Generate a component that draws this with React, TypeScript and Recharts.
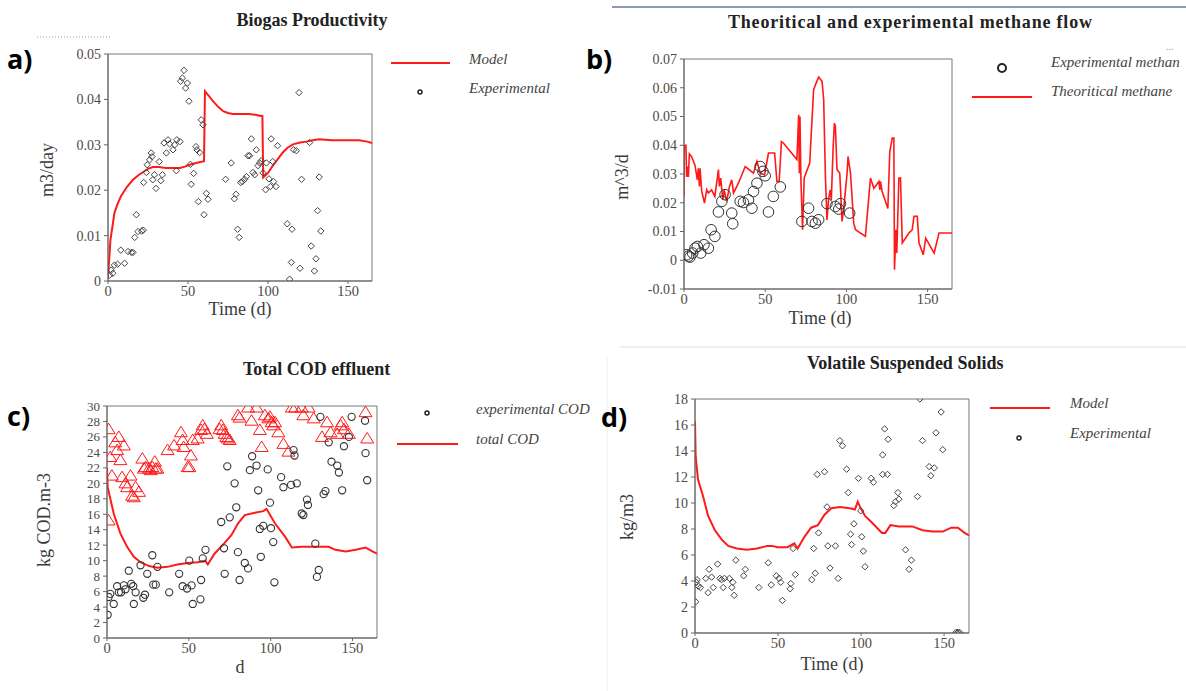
import React from "react";
import { ComposedChart, Line, Scatter, XAxis, YAxis, ReferenceArea } from "recharts";

// ---- a) biogas productivity (m3/day)
const biogasModel: [number, number][] = [
  [0, 0.001], [1, 0.006], [1.5, 0.009], [3, 0.0125], [4, 0.015], [6, 0.017], [8, 0.0186], [12, 0.0208],
  [15.6, 0.0223], [19, 0.0233], [22, 0.024], [25, 0.0247], [28, 0.0251], [32, 0.0251], [36, 0.0249],
  [40, 0.0249], [45, 0.0249], [48, 0.0252], [51, 0.0256], [55, 0.026], [60, 0.0264], [60.6, 0.0418],
  [63, 0.0408], [65.6, 0.0396], [69, 0.0383], [72, 0.0374], [75, 0.037], [78, 0.0368], [88, 0.0368],
  [92, 0.0366], [96.5, 0.0363], [97, 0.0228], [100, 0.0238], [103, 0.0254], [106, 0.0268], [109, 0.0282],
  [112, 0.0293], [115.6, 0.0301], [120, 0.0305], [124, 0.0307], [128, 0.031], [132, 0.0312], [136, 0.0311],
  [140, 0.031], [150, 0.031], [157, 0.031], [162, 0.0307], [165, 0.0304]
];
const biogasExp: [number, number][] = [
  [1, 0.0013], [2, 0.0024], [3, 0.0017], [4, 0.0035], [6, 0.0037], [8, 0.0068], [10.4, 0.0039], [12.5, 0.0065],
  [14.6, 0.0063], [15.6, 0.0063], [16.7, 0.0096], [17.7, 0.0146], [18.75, 0.0109], [21, 0.011], [22, 0.0112],
  [22.3, 0.0217], [24, 0.0239], [24.5, 0.0256], [26, 0.0267], [27, 0.0282], [27.5, 0.0274], [28, 0.0223],
  [29, 0.0234], [30, 0.0204], [32, 0.0263], [33, 0.0221], [34, 0.0234], [35, 0.0304], [36.5, 0.0282],
  [37.5, 0.0311], [38.5, 0.0302], [40.6, 0.0289], [41.7, 0.03], [43, 0.0311], [42.7, 0.0243], [45, 0.0307],
  [45.4, 0.044], [46.5, 0.0447], [47.5, 0.0464], [48.5, 0.0425], [49.6, 0.0436], [50.6, 0.0396], [51.5, 0.0257],
  [52, 0.0213], [53.5, 0.0237], [55, 0.0296], [55.6, 0.0289], [56.5, 0.0175], [57.3, 0.0283], [58.3, 0.0355],
  [59.4, 0.0344], [60, 0.0146], [61.5, 0.0193], [62.5, 0.018], [73.5, 0.0224], [77, 0.026], [79, 0.0181],
  [80, 0.0191], [81, 0.0114], [82, 0.0096], [83, 0.0217], [84, 0.0219], [85.4, 0.0224], [86.5, 0.023],
  [87.5, 0.0276], [88.5, 0.0276], [89.6, 0.0313], [90.6, 0.0239], [91.7, 0.0234], [92.7, 0.0289],
  [93.75, 0.0254], [94.8, 0.026], [95.8, 0.0265], [96.9, 0.0238], [99, 0.026], [98.5, 0.0201], [100.6, 0.0225],
  [101.5, 0.0208], [102, 0.0313], [103, 0.0263], [103.5, 0.0219], [105, 0.0208], [106, 0.0298], [112, 0.0126],
  [113.5, 0.0004], [114.6, 0.0041], [115, 0.0114], [116, 0.0289], [117.7, 0.0287], [119.4, 0.0415],
  [120, 0.0028], [121, 0.0224], [126, 0.0305], [127, 0.0077], [129, 0.0022], [130, 0.0049], [131, 0.0155],
  [132, 0.0229], [133, 0.011]
];

// ---- b) methane flow (m^3/d)
const methaneTheory: [number, number][] = [
  [0, 0.0222], [0.2, 0.04], [1.2, 0.04], [1.6, 0.029], [2, 0.0326], [2.7, 0.029], [3.3, 0.037], [4.7, 0.036],
  [6.8, 0.033], [8.2, 0.028], [8.8, 0.032], [9.5, 0.0257], [9.9, 0.032], [10.9, 0.024], [12.6, 0.0199],
  [14, 0.0245], [15, 0.0234], [17, 0.0245], [19, 0.0222], [21.2, 0.0315], [21.8, 0.0257], [22.6, 0.0286],
  [23.9, 0.021], [24.7, 0.0245], [26.3, 0.0205], [28, 0.0257], [29.4, 0.028], [30.5, 0.0234], [33.5, 0.0268],
  [37.7, 0.0326], [42.8, 0.0303], [44.9, 0.0344], [46.9, 0.0303], [49.6, 0.0297], [52, 0.0373], [55.8, 0.0373],
  [57.2, 0.0274], [58.6, 0.0274], [60, 0.0413], [61.3, 0.0407], [69.5, 0.035], [70.6, 0.0506], [71, 0.0303],
  [71.4, 0.05], [72, 0.0274], [73, 0.0106], [74, 0.0286], [77.4, 0.0338], [79.8, 0.0593], [80.9, 0.061],
  [82.9, 0.0637], [85, 0.0622], [86, 0.0558], [87, 0.0303], [88, 0.014], [89, 0.021], [90, 0.0245],
  [90.7, 0.021], [91.8, 0.039], [92.6, 0.0477], [93.2, 0.0466], [94.2, 0.0315], [95.9, 0.0303], [97.3, 0.0135],
  [98.3, 0.0176], [100.4, 0.0303], [101, 0.0361], [102.5, 0.0303], [104.5, 0.0129], [105.6, 0.0106],
  [111.7, 0.0083], [114.8, 0.0286], [116.9, 0.025], [120, 0.0274], [120.6, 0.0245], [121, 0.0274],
  [122, 0.0239], [125.5, 0.018], [126.7, 0.0378], [128.2, 0.0425], [129.2, 0.0425], [129.6, -0.0033],
  [130.5, 0.0106], [131, 0.0025], [132.3, 0.0286], [133.3, 0.0286], [134.4, 0.006], [138.5, 0.0095],
  [140.5, 0.0106], [141.6, 0.0153], [143.6, 0.0153], [144.7, 0.006], [147.3, 0.0019], [148.8, 0.0077],
  [154, 0.0025], [157, 0.0095], [165, 0.0095]
];
const methaneExp: [number, number][] = [
  [1.6, 0.0019], [2.7, 0.0014], [3.7, 0.0011], [5.3, 0.0025], [6.8, 0.0042], [8.2, 0.0048], [10.3, 0.0025],
  [12.3, 0.0054], [15, 0.0042], [16.7, 0.0106], [19, 0.0083], [21.2, 0.0168], [23.3, 0.0205], [25.3, 0.0228],
  [29.4, 0.0164], [30, 0.0127], [34.6, 0.0205], [36.6, 0.0201], [39.7, 0.021], [41.8, 0.0181], [42.8, 0.0239],
  [44.9, 0.0268], [46.9, 0.0326], [48.6, 0.0309], [50, 0.0294], [52, 0.0168], [55, 0.0222], [59.3, 0.0255],
  [72.6, 0.0135], [76.7, 0.0181], [78.8, 0.0135], [80.9, 0.0129], [82.9, 0.0141], [88, 0.0197], [93.2, 0.0187],
  [95.3, 0.0178], [96.3, 0.0197], [102, 0.0164]
];

// ---- c) total COD effluent (kg COD.m-3)
const codTotal: [number, number][] = [
  [0, 22], [0.4, 19.5], [4.1, 16.1], [8.2, 13.5], [12.3, 11.8], [16.4, 10.5], [20.5, 9.8], [25.7, 9.3],
  [30.8, 9.1], [37, 9.2], [43, 9.5], [49.3, 9.7], [55.4, 9.8], [60, 10], [61.6, 9.5], [65.7, 10.9], [71.9, 12.3],
  [76, 13.3], [80, 14.8], [84.2, 15.9], [90.3, 16.2], [95.5, 16.4], [97.5, 16.7], [98.6, 16.3], [102.7, 14.8],
  [108.8, 13.1], [113, 11.7], [119, 11.8], [129.4, 11.8], [135.5, 11.8], [139.6, 11.4], [145.8, 11.2],
  [152, 11.4], [158, 11.7], [162.2, 11.2], [165, 10.9]
];
const codExp: [number, number][] = [
  [0.4, 3], [1, 5.3], [2, 5.7], [4.1, 4.4], [6.2, 6.7], [7.2, 5.9], [8.6, 5.9], [10.3, 6.8], [11.3, 6.3],
  [13.3, 8.7], [14.8, 7], [16, 6.7], [16.4, 4.4], [17.5, 5.9], [20.5, 9.4], [22.2, 5.2], [23.2, 5.6], [24.6, 8.3],
  [27.7, 10.7], [28.3, 6.9], [29.8, 6.9], [30.8, 9.2], [38, 5.9], [44.1, 8.3], [46.2, 6.7], [48.9, 6.4],
  [50.3, 10], [51.7, 6.8], [52.4, 4.4], [57.1, 5], [57.5, 7.5], [58.5, 10.3], [60.2, 11.4], [69.8, 15],
  [71.5, 11.6], [71.9, 8.3], [73.5, 22.2], [75, 15.6], [78, 20], [79, 16.9], [80, 11.1], [81, 7.5], [84.2, 9.7],
  [86.2, 9], [87.3, 21.7], [88.7, 23.5], [91.4, 22.3], [92.4, 19.1], [94, 10.5], [93.4, 14.1], [95.5, 14.5],
  [98.2, 21.8], [99.6, 17.5], [100.2, 14.2], [101.6, 12.4], [102.3, 7.2], [106.4, 20.8], [107.8, 19.5],
  [112.5, 19.8], [114, 24.3], [114.6, 23.6], [116, 20], [119, 16.1], [120, 15.9], [122.2, 17.9], [122.8, 17.2],
  [127.3, 12.2], [128.3, 7.9], [129.4, 8.8], [130.4, 28.6], [132.4, 18.6], [133.5, 19], [135.5, 25.3],
  [137.2, 22.8], [140.7, 22.3], [141.7, 21.4], [143.7, 19.1], [144.8, 24.8], [147.8, 26], [149.5, 28.6],
  [157.7, 28.1], [158, 23.9], [159, 20.4]
];
const codInfluent: [number, number][] = [
  [1, 27], [2, 23.4], [1, 15.2], [3, 21], [5, 25.3], [6.2, 24.3], [7.2, 26], [8.2, 23], [9.2, 20.8], [10.3, 24.9],
  [11.3, 20], [12.3, 19.5], [14.4, 21], [15.4, 18.4], [16.4, 18.2], [17.5, 19.5], [19.5, 18.9], [21.6, 23.2],
  [22.6, 21.9], [23.6, 22.1], [25.7, 21.9], [26.7, 21.7], [27.7, 22.1], [29.2, 22.8], [29.8, 21.9],
  [30.8, 21.9], [37, 24.3], [41, 24.9], [45.2, 26.6], [46.2, 25.6], [46.8, 24.7], [49.3, 22.1], [50.3, 22.1],
  [51.3, 23.6], [52.4, 25.6], [55.4, 25.8], [57.5, 26.9], [58.5, 27.5], [59.5, 27], [61, 26.4], [68.8, 27],
  [69.8, 27.5], [70.8, 26.9], [71.9, 26.4], [72.9, 26], [73.9, 25.8], [75, 25.6], [80, 28.8], [81, 28.5],
  [86.2, 29.8], [88.3, 28.1], [91.4, 29.8], [93.4, 26.9], [94.5, 24.7], [96.5, 28.8], [98.6, 28.4], [99.6, 28.6],
  [100.6, 27.9], [101.6, 27.5], [102.7, 27.9], [104.7, 26.6], [107.8, 25.1], [110.9, 24.1], [113, 29.8],
  [115, 29.8], [119, 29.8], [120, 28.8], [123.2, 29.8], [126.3, 28.4], [131.4, 26], [134.5, 27.9], [136.6, 26.6],
  [140.7, 26.4], [142.7, 27.5], [143.7, 27.9], [144.8, 27], [147.8, 26.4], [158, 29.2], [159, 25.8]
];

// ---- d) volatile suspended solids (kg/m3)
const vssModel: [number, number][] = [
  [0, 16.3], [0.4, 13.6], [1.8, 11.8], [4.9, 10.5], [7.9, 9], [12, 7.9], [16, 7.2], [20, 6.7], [25.2, 6.5],
  [31.3, 6.4], [37.4, 6.5], [43.5, 6.7], [46.5, 6.7], [49.6, 6.6], [55.7, 6.6], [59.8, 6.9], [61.8, 6.5],
  [65.9, 7.4], [69.9, 8.1], [74, 8.3], [78, 9.1], [82.1, 9.6], [87.2, 9.7], [93.3, 9.6], [96.3, 9.5], [98, 10.1],
  [99.4, 9.7], [102.4, 9], [106.5, 8.5], [112.6, 7.7], [114.6, 7.7], [117.7, 8.3], [122.8, 8.2], [127.8, 8.2],
  [130.9, 8.2], [137, 7.9], [143.1, 7.8], [149.2, 7.8], [154.3, 8.1], [158.3, 8.1], [162.4, 7.7], [165, 7.5]
];
const vssExp: [number, number][] = [
  [0.4, 2.4], [0.8, 3.9], [1.2, 4.1], [2, 3.6], [3.3, 3.5], [6.5, 4.2], [7.9, 3.1], [8.5, 4.9], [10, 4.3],
  [11, 3.5], [13.6, 5.3], [15, 4.2], [16, 4.1], [17, 3.5], [17.7, 4.2], [20.7, 4.2], [22.2, 3.5], [22.8, 3.9],
  [23.6, 2.9], [24.6, 5.6], [29.3, 4.4], [30.3, 4.9], [38.4, 3.5], [44.1, 5.4], [45.9, 3.7], [49, 4.4],
  [50.6, 4.2], [51.6, 3.9], [52.6, 2.5], [57.3, 3.4], [57.7, 3.8], [59.1, 6.5], [60.4, 4.5], [70.3, 4.1],
  [71.5, 6.5], [72.4, 4.6], [73.6, 12.2], [74.4, 7.7], [78, 12.4], [79.5, 9.7], [80, 6.7], [81.3, 5],
  [84.6, 6.7], [86.2, 4.2], [87.2, 14.8], [88.8, 14.4], [91.3, 12.6], [92.3, 10.8], [93.7, 7.6], [94.3, 6.8],
  [95.7, 8.4], [98.4, 11.9], [99.8, 9.4], [100.4, 7.4], [101.4, 6.3], [102.4, 5.1], [106.1, 11.9], [107.5, 11.6],
  [113, 13.7], [114.2, 15.7], [113, 12.2], [115.9, 12.2], [116.3, 14.9], [119.7, 9.8], [120.7, 10.1],
  [122.2, 10.8], [122.8, 10.3], [126.8, 6.4], [128.9, 4.9], [130.3, 5.6], [134, 10.5], [135.4, 18], [137, 14.8],
  [141, 12.8], [142, 12.1], [144.1, 12.7], [145.1, 15.4], [148.2, 17], [149.2, 14.1], [157.3, 0.05],
  [158.3, 0.05], [159.3, 0.05]
];

const dayTicks = [0, 50, 100, 150];
const biogasTicks = [0, 0.01, 0.02, 0.03, 0.04, 0.05];
const methaneTicks = [-0.01, 0, 0.01, 0.02, 0.03, 0.04, 0.05, 0.06, 0.07];
const codTicks = [0, 2, 4, 6, 8, 10, 12, 14, 16, 18, 20, 22, 24, 26, 28, 30];
const vssTicks = [0, 2, 4, 6, 8, 10, 12, 14, 16, 18];

const pts = (rows: [number, number][]) => rows.map(([x, y]) => ({ x, y }));

const SERIF = "'Liberation Serif', 'Times New Roman', serif";
const TICK_FILL = "#4f4a45";
const RED = "#ff1a1a";

// serif tick labels (the tick prop object did not carry the font)
const xTick = (p: any) => (
  <text x={p.x} y={p.y} dy="0.71em" textAnchor="middle" fontFamily={SERIF} fontSize={14.5} fill={TICK_FILL}>
    {p.payload.value}
  </text>
);
const yTick = (size: number) => (p: any) => (
  <text x={p.x} y={p.y} dy="0.35em" textAnchor="end" fontFamily={SERIF} fontSize={size} fill={TICK_FILL}>
    {p.payload.value}
  </text>
);

const Diamond = (p: any) => (
  <path
    d={`M${p.cx},${p.cy - 3.2}L${p.cx + 3.2},${p.cy}L${p.cx},${p.cy + 3.2}L${p.cx - 3.2},${p.cy}Z`}
    fill="none"
    stroke="#444"
    strokeWidth={1}
  />
);
const BigRing = (p: any) => <circle cx={p.cx} cy={p.cy} r={5.3} fill="none" stroke="#333" strokeWidth={1} />;
const SmallRing = (p: any) => <circle cx={p.cx} cy={p.cy} r={3.6} fill="none" stroke="#333" strokeWidth={1.1} />;
const Triangle = (p: any) => (
  <path
    d={`M${p.cx},${p.cy - 6}L${p.cx + 6.5},${p.cy + 4.5}L${p.cx - 6.5},${p.cy + 4.5}Z`}
    fill="none"
    stroke={RED}
    strokeWidth={1}
  />
);

function Panel({
  left, top, width, height, marginTop, marginRight, yWidth, xHeight, yDomain, yTicks, tickSize, children
}: any) {
  return (
    <div style={{ position: "absolute", left, top }}>
      <ComposedChart width={width} height={height} margin={{ top: marginTop, right: marginRight, bottom: 0, left: 0 }}>
        <XAxis
          type="number"
          dataKey="x"
          domain={[0, 165]}
          ticks={dayTicks}
          interval={0}
          allowDataOverflow
          height={xHeight}
          stroke="#666"
          tickSize={3}
          tickMargin={2}
          tick={xTick}
        />
        <YAxis
          type="number"
          dataKey="y"
          domain={yDomain}
          ticks={yTicks}
          interval={0}
          allowDataOverflow
          width={yWidth}
          stroke="#666"
          tickSize={4}
          tickMargin={3}
          tick={yTick(tickSize)}
        />
        <ReferenceArea x1={0} x2={165} y1={yDomain[0]} y2={yDomain[1]} fill="none" stroke="#777" strokeWidth={1} />
        {children}
      </ComposedChart>
    </div>
  );
}

const txt = { fontFamily: SERIF, fill: "#3a3a3a" } as const;
const legendTxt = { fontFamily: SERIF, fontStyle: "italic", fontSize: 15, fill: "#444" } as const;
const title = { fontFamily: SERIF, fontWeight: 700, fontSize: 18, fill: "#222" } as const;
const letter = { fontFamily: "'Open Sans', 'Noto Sans', sans-serif", fontWeight: 700, fontSize: 27, fill: "#000" } as const;

export default function App() {
  return (
    <div style={{ position: "absolute", left: 0, top: 0, width: 1186, height: 691, overflow: "hidden", background: "#fff" }}>
      <Panel left={0} top={0} width={380} height={320} marginTop={54} marginRight={8} yWidth={108} xHeight={39}
        yDomain={[0, 0.05]} yTicks={biogasTicks} tickSize={14}>
        <Scatter data={pts(biogasExp)} dataKey="y" shape={Diamond} isAnimationActive={false} />
        <Line data={pts(biogasModel)} dataKey="y" type="linear" stroke={RED} strokeWidth={2} dot={false} isAnimationActive={false} />
      </Panel>

      <Panel left={590} top={0} width={370} height={325} marginTop={59} marginRight={8} yWidth={94} xHeight={36}
        yDomain={[-0.01, 0.07]} yTicks={methaneTicks} tickSize={14}>
        <Scatter data={pts(methaneExp)} dataKey="y" shape={BigRing} isAnimationActive={false} />
        <Line data={pts(methaneTheory)} dataKey="y" type="linear" stroke={RED} strokeWidth={1.6} dot={false} isAnimationActive={false} />
      </Panel>

      <Panel left={0} top={340} width={390} height={335} marginTop={66} marginRight={13} yWidth={107} xHeight={37}
        yDomain={[0, 30]} yTicks={codTicks} tickSize={13}>
        <Scatter data={pts(codInfluent)} dataKey="y" shape={Triangle} isAnimationActive={false} />
        <Scatter data={pts(codExp)} dataKey="y" shape={SmallRing} isAnimationActive={false} />
        <Line data={pts(codTotal)} dataKey="y" type="linear" stroke={RED} strokeWidth={2} dot={false} isAnimationActive={false} />
      </Panel>

      <Panel left={590} top={340} width={390} height={335} marginTop={59} marginRight={11} yWidth={105} xHeight={42}
        yDomain={[0, 18]} yTicks={vssTicks} tickSize={14}>
        <Scatter data={pts(vssExp)} dataKey="y" shape={Diamond} isAnimationActive={false} />
        <Line data={pts(vssModel)} dataKey="y" type="linear" stroke={RED} strokeWidth={2} dot={false} isAnimationActive={false} />
      </Panel>

      <svg width={1186} height={691} style={{ position: "absolute", left: 0, top: 0, pointerEvents: "none" }}>
        {/* separators */}
        <line x1={612} y1={7} x2={1186} y2={7} stroke="#8d9cab" strokeWidth={2} />
        <line x1={37} y1={37} x2={110} y2={37} stroke="#999" strokeDasharray="1 2" />
        <line x1={620} y1={347} x2={1186} y2={347} stroke="#ddd" />
        <line x1={607} y1={357} x2={607} y2={691} stroke="#eee" />
        <text x={1166} y={50} fontSize={10} fill="#999">...</text>

        {/* titles */}
        <text x={312} y={26} textAnchor="middle" style={title}>Biogas Productivity</text>
        <text x={728} y={28} style={title} letterSpacing={0.8}>Theoritical and experimental methane flow</text>
        <text x={243} y={375} style={title}>Total COD effluent</text>
        <text x={807} y={369} style={title}>Volatile Suspended Solids</text>

        {/* panel letters */}
        <text x={7} y={69} style={letter}>a)</text>
        <text x={586} y={69} style={letter}>b)</text>
        <text x={7} y={426} style={letter}>c)</text>
        <text x={601} y={427} style={letter}>d)</text>

        {/* axis titles */}
        <text x={240} y={315} textAnchor="middle" fontSize={18} style={txt}>Time (d)</text>
        <text transform="translate(53,170) rotate(-90)" textAnchor="middle" fontSize={18} style={txt}>m3/day</text>
        <text x={820} y={324} textAnchor="middle" fontSize={18} style={txt}>Time (d)</text>
        <text transform="translate(628,177) rotate(-90)" textAnchor="middle" fontSize={18} style={txt}>m^3/d</text>
        <text x={240} y={673} textAnchor="middle" fontSize={18} style={txt}>d</text>
        <text transform="translate(50,520) rotate(-90)" textAnchor="middle" fontSize={18} style={txt}>kg COD.m-3</text>
        <text x={832} y={670} textAnchor="middle" fontSize={18} style={txt}>Time (d)</text>
        <text transform="translate(633,517) rotate(-90)" textAnchor="middle" fontSize={18} style={txt}>kg/m3</text>

        {/* legends (b's entries run past the figure edge in the source, only the visible part is kept) */}
        <line x1={391} y1={63} x2={450} y2={63} stroke={RED} strokeWidth={2} />
        <text x={469} y={64} style={legendTxt}>Model</text>
        <circle cx={420} cy={92} r={2} fill="none" stroke="#222" strokeWidth={1.5} />
        <text x={469} y={93} style={legendTxt}>Experimental</text>

        <circle cx={1002} cy={68} r={4} fill="none" stroke="#222" strokeWidth={2} />
        <text x={1051} y={67} style={legendTxt}>Experimental methan</text>
        <line x1={972} y1={97} x2={1032} y2={97} stroke={RED} strokeWidth={2} />
        <text x={1051} y={96} style={legendTxt}>Theoritical methane</text>

        <circle cx={427} cy={413} r={2} fill="none" stroke="#222" strokeWidth={1.5} />
        <text x={476} y={414} style={legendTxt}>experimental COD</text>
        <line x1={397} y1={444} x2={458} y2={444} stroke={RED} strokeWidth={2} />
        <text x={476} y={444} style={legendTxt}>total COD</text>

        <line x1={990} y1={408} x2={1050} y2={408} stroke={RED} strokeWidth={2} />
        <text x={1070} y={408} style={legendTxt}>Model</text>
        <circle cx={1019} cy={438} r={2} fill="none" stroke="#222" strokeWidth={1.5} />
        <text x={1070} y={438} style={legendTxt}>Experimental</text>
      </svg>
    </div>
  );
}
